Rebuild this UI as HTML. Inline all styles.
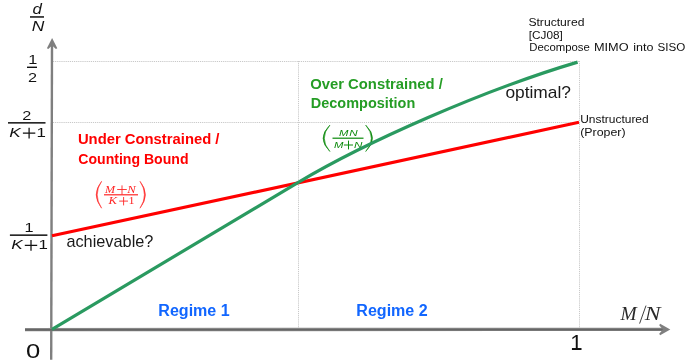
<!DOCTYPE html>
<html><head><meta charset="utf-8">
<style>
html,body{margin:0;padding:0;background:#fff;}
body{width:692px;height:363px;overflow:hidden;font-family:"Liberation Sans",sans-serif;}
svg{display:block;will-change:transform;}
svg{font-family:"Liberation Sans",sans-serif;}
.ser{font-family:"Liberation Serif",serif;font-style:italic}
</style></head><body>
<svg width="692" height="363" viewBox="0 0 692 363">
<rect width="692" height="363" fill="#fff"/>
<!-- dotted guides -->
<g stroke="#c9c9c9" stroke-width="1" stroke-dasharray="1.2 0.9" fill="none">
<line x1="53" y1="61.5" x2="579" y2="61.5"/>
<line x1="53" y1="122.5" x2="579" y2="122.5"/>
<line x1="298.5" y1="61" x2="298.5" y2="329"/>
<line x1="579.5" y1="61" x2="579.5" y2="329"/>
</g>
<!-- axes -->
<g stroke="#7f7f7f" stroke-width="2.6" fill="none">
<line x1="52" y1="44" x2="51.2" y2="359.8" stroke-width="2.4"/>
<line x1="25" y1="329.6" x2="665" y2="329.3" stroke-width="3.3" stroke="#888"/><line x1="25" y1="329.9" x2="665" y2="329.6" stroke-width="1.6" stroke="#666"/>

</g>
<g fill="#7f7f7f"><polygon points="52.1,38.1 57.3,48.3 55.9,49.1 52.1,45.6 48.3,49.1 46.9,48.3"/>
<polygon points="670.3,329.5 660.1,335.2 659.2,333.7 662.9,329.5 659.2,325.3 660.1,323.8"/></g>

<!-- y labels -->
<g fill="#111">
<text transform="translate(32.6,14.1) scale(1.22,1)" font-size="13.8" font-style="italic">d</text>
<rect x="30" y="16.2" width="14" height="1.5"/>
<text transform="translate(31.7,30.8) scale(1.22,1)" font-size="14.3" font-style="italic">N</text>
<text transform="translate(28.3,63.6) scale(1.25,1)" font-size="13">1</text>
<rect x="27" y="66.6" width="10" height="1.4"/>
<text transform="translate(28,81.8) scale(1.25,1)" font-size="13">2</text>
<text transform="translate(22.2,119.7) scale(1.25,1)" font-size="13">2</text>
<g transform="translate(0,122.9)" fill="#111">
<rect x="8" y="-0.8" width="37.5" height="1.5"/>
<text transform="translate(9.3,14) scale(1.28,1)" font-size="13.5" font-style="italic">K</text>
<path d="M22.9,10.2 H35.3 M29.1,4.8 V15.6" stroke="#111" stroke-width="1.25" fill="none"/>
<text transform="translate(36.6,14) scale(1.25,1)" font-size="13.5">1</text>
</g>
<text transform="translate(24.4,231.8) scale(1.25,1)" font-size="13">1</text>
<g transform="translate(1.9,235.2)" fill="#111">
<rect x="8" y="-0.8" width="37.5" height="1.5"/>
<text transform="translate(9.3,14) scale(1.28,1)" font-size="13.5" font-style="italic">K</text>
<path d="M22.9,10.2 H35.3 M29.1,4.8 V15.6" stroke="#111" stroke-width="1.25" fill="none"/>
<text transform="translate(36.6,14) scale(1.25,1)" font-size="13.5">1</text>
</g>
</g>
<text transform="translate(25.9,358.4) scale(1.25,1)" font-size="20.5" fill="#111">0</text>
<text x="570.2" y="349.6" font-size="22" fill="#111">1</text>
<rect x="572" y="348.1" width="9.3" height="1.5" fill="#111"/>
<g class="ser" fill="#2a2a2a" font-size="18">
<text transform="translate(620.6,319.6) scale(1.08,1)">M</text>
<text transform="translate(644.8,319.6) scale(1.32,1)">N</text>
</g>
<line x1="639.6" y1="323.6" x2="646" y2="305.6" stroke="#2a2a2a" stroke-width="0.9"/>

<!-- right labels -->
<g font-size="10" fill="#111">
<text x="528.4" y="25.8" textLength="56" lengthAdjust="spacingAndGlyphs">Structured</text>
<text x="528.8" y="38.5" textLength="34" lengthAdjust="spacingAndGlyphs">[CJ08]</text>
<text x="529.3" y="50.8" textLength="60.5" lengthAdjust="spacingAndGlyphs">Decompose</text>
<text x="594" y="50.8" textLength="34.6" lengthAdjust="spacingAndGlyphs">MIMO</text>
<text x="633.2" y="50.8" textLength="20.2" lengthAdjust="spacingAndGlyphs">into</text>
<text x="657.4" y="50.8" textLength="27.8" lengthAdjust="spacingAndGlyphs">SISO</text>
<text x="580.2" y="122.5" textLength="68.5" lengthAdjust="spacingAndGlyphs">Unstructured</text>
<text x="580.2" y="135.5" textLength="45.4" lengthAdjust="spacingAndGlyphs">(Proper)</text>
</g>

<!-- bold labels -->
<g font-weight="bold" font-size="14.8">
<text x="77.9" y="143.9" fill="#ff0000" textLength="141.6" lengthAdjust="spacingAndGlyphs">Under Constrained /</text>
<text x="78.3" y="164" fill="#ff0000" textLength="110.2" lengthAdjust="spacingAndGlyphs">Counting Bound</text>
<text x="310.2" y="88.6" fill="#259d25" textLength="132.6" lengthAdjust="spacingAndGlyphs">Over Constrained /</text>
<text x="310.8" y="107.9" fill="#259d25" textLength="104.5" lengthAdjust="spacingAndGlyphs">Decomposition</text>
<text x="158.3" y="315.7" font-size="15.8" fill="#1166ff" textLength="71.4" lengthAdjust="spacingAndGlyphs">Regime 1</text>
<text x="356.3" y="315.7" font-size="15.8" fill="#1166ff" textLength="71.4" lengthAdjust="spacingAndGlyphs">Regime 2</text>
</g>
<text x="66.4" y="246.6" font-size="16.2" fill="#1a1a1a" textLength="87" lengthAdjust="spacingAndGlyphs">achievable?</text>
<text x="505.4" y="98.2" font-size="16.2" fill="#1a1a1a" textLength="65.6" lengthAdjust="spacingAndGlyphs">optimal?</text>

<!-- red math -->
<g fill="#ff2626" stroke="none" font-size="11" class="ser">
<text transform="translate(105,192.6) scale(1.1,1)">M</text>
<text transform="translate(127.2,192.6) scale(1.15,1)">N</text>
<rect x="104" y="194.2" width="34" height="1.2"/>
<text transform="translate(108.6,204.3) scale(1.15,1)">K</text>
<text transform="translate(128.6,204.3) scale(1.1,1)" font-style="normal">1</text>
</g>
<g fill="none" stroke="#ff2626" stroke-width="0.9">
<path d="M117.2,189.5 H126.8 M122,185.4 V194.5"/>
<path d="M119.2,201.1 H128 M123.6,197 V205.4"/>
<path d="M101.6,181.3 Q90.8,194.7 101.6,208.2 Q92.8,194.7 101.6,181.3 Z" fill="#ff2626" stroke-width="0.55"/>
<path d="M140,181.3 Q150.8,194.7 140,208.2 Q148.8,194.7 140,181.3 Z" fill="#ff2626" stroke-width="0.55"/>
</g>
<!-- green math -->
<g fill="#0c8a0c" stroke="none" font-size="9.3" font-style="italic">
<text transform="translate(338.9,135.7) scale(1.22,1)">M</text>
<text transform="translate(349.2,135.7) scale(1.25,1)">N</text>
<rect x="332.5" y="137.6" width="31" height="1.2"/>
<text transform="translate(333.9,148.1) scale(1.22,1)">M</text>
<text transform="translate(354.1,148.1) scale(1.25,1)">N</text>
</g>
<g fill="none" stroke="#0c8a0c" stroke-width="1">
<path d="M343.9,145 H353 M348.5,140.6 V149.4"/>
<path d="M329.9,125.1 Q316.3,138.3 329.9,151.5 Q318.6,138.3 329.9,125.1 Z" fill="#0c8a0c" stroke-width="0.6"/>
<path d="M365.7,125.1 Q379.3,138.3 365.7,151.5 Q377,138.3 365.7,125.1 Z" fill="#0c8a0c" stroke-width="0.6"/>
</g>
<!-- red line -->
<line x1="52" y1="235.8" x2="579" y2="122.3" stroke="#ff0000" stroke-width="3.2"/>
<!-- green curve -->
<path d="M52,329.3 L298.3,182.4 C366.2,141.9 483.4,90.1 577.6,62.1" stroke="#2a9a60" stroke-width="3.2" fill="none"/>
</svg>
</body></html>
